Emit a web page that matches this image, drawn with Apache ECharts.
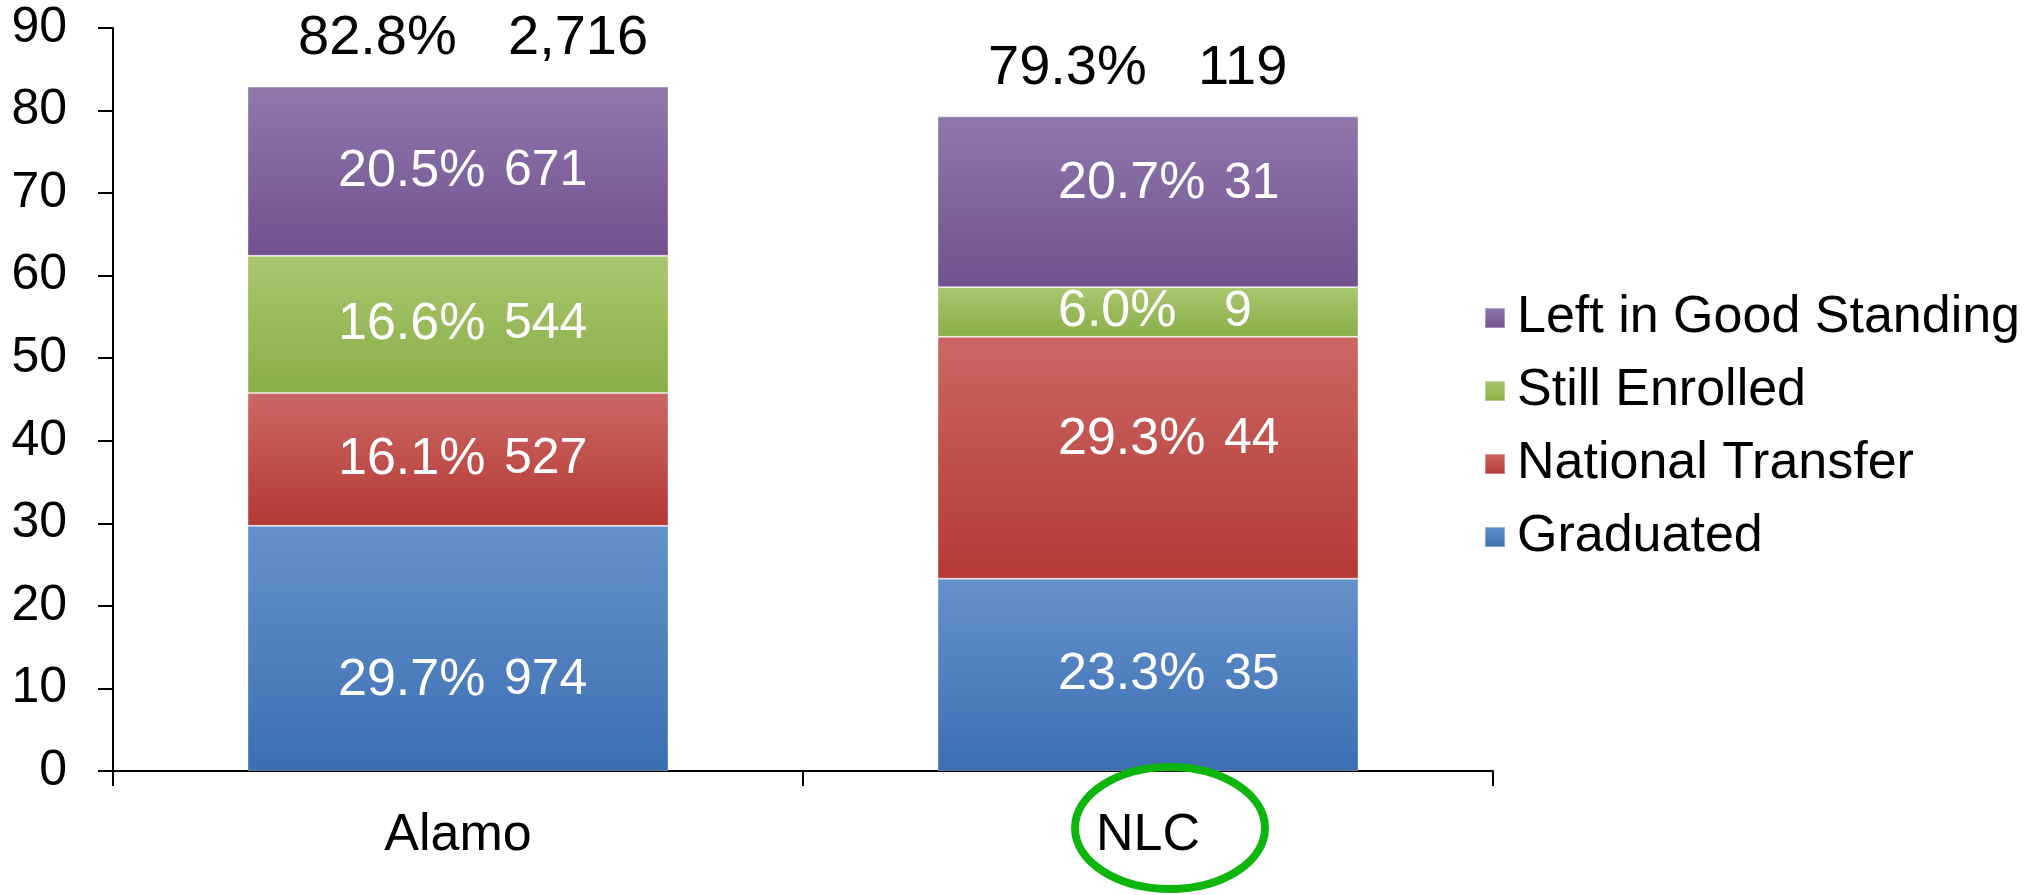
<!DOCTYPE html>
<html>
<head>
<meta charset="utf-8">
<script src="https://cdn.jsdelivr.net/npm/echarts@6/dist/echarts.min.js"></script>
<style>
html, body { margin: 0; padding: 0; background: #fff; }
#chart { width: 2041px; height: 895px; }
</style>
</head>
<body>
<div id="chart"></div>
<script>
// 数据
var categories = ['Alamo', 'NLC'];
var seriesNames = ['Graduated', 'National Transfer', 'Still Enrolled', 'Left in Good Standing'];
var pctValues = [
	[29.7, 23.3],
	[16.1, 29.3],
	[16.6, 6.0],
	[20.5, 20.7]
];
var countValues = [
	['974', '35'],
	['527', '44'],
	['544', '9'],
	['671', '31']
];
var totalPct = ['82.8%', '79.3%'];
var totalCount = ['2,716', '119'];
var yTicks = [0, 90, 10]; // min, max, interval

// 渐变色（上浅下深）
var gradients = [
	['#6591cc', '#3c6fb2'],
	['#cb6763', '#b53935'],
	['#a9c66e', '#8aae48'],
	['#8f77ac', '#71528f']
];
// 标签的水平偏移（按柱）及个别的垂直微调
var labelDx = [8, 38];
var labelDy = [
	[32, 0],
	[0, -18],
	[0, 0],
	[0, -18]
];

var font = 'Liberation Sans';

var chart = echarts.init(document.getElementById('chart'));

var series = seriesNames.map(function (name, i) {
	return {
		name: name,
		type: 'bar',
		stack: 'total',
		barWidth: 421,
		itemStyle: {
			color: new echarts.graphic.LinearGradient(0, 0, 0, 1, [
				{ offset: 0, color: gradients[i][0] },
				{ offset: 1, color: gradients[i][1] }
			]),
			borderColor: 'rgba(255,255,255,0.35)',
			borderWidth: 1
		},
		data: pctValues[i].map(function (v, j) {
			return {
				value: v,
				label: { offset: [labelDx[j], labelDy[i][j]] }
			};
		}),
		label: {
			show: true,
			position: 'inside',
			formatter: function (p) {
				return '{p|' + pctValues[i][p.dataIndex].toFixed(1) + '%}{c|' + countValues[i][p.dataIndex] + '}';
			},
			rich: {
				p: { fontFamily: font, fontSize: 52, color: '#fff', width: 166, align: 'left' },
				c: { fontFamily: font, fontSize: 50, color: '#fff', width: 90, align: 'left' }
			}
		}
	};
});

// 总计标签：高度为0的堆叠柱
series.push({
	name: 'Total',
	type: 'bar',
	stack: 'total',
	barWidth: 421,
	data: categories.map(function () { return 0; }),
	itemStyle: { color: 'transparent' },
	label: {
		show: true,
		position: 'top',
		distance: 20,
		formatter: function (p) {
			return '{p|' + totalPct[p.dataIndex] + '}{c|' + totalCount[p.dataIndex] + '}';
		},
		rich: {
			p: { fontFamily: font, fontSize: 56, color: '#000', width: 210, align: 'left' },
			c: { fontFamily: font, fontSize: 56, color: '#000', width: 110, align: 'left' }
		}
	}
});

var option = {
	animation: false,
	backgroundColor: '#fff',
	textStyle: { fontFamily: font },
	grid: { left: 113, right: 548, top: 28, bottom: 124 },
	legend: {
		orient: 'vertical',
		left: 1484,
		top: 292,
		padding: 0,
		itemWidth: 20,
		itemHeight: 20,
		itemGap: 21,
		icon: 'rect',
		data: ['Left in Good Standing', 'Still Enrolled', 'National Transfer', 'Graduated'],
		textStyle: { fontFamily: font, fontSize: 52, color: '#000', padding: [0, 0, 0, 7] }
	},
	xAxis: {
		type: 'category',
		data: categories,
		axisLine: { lineStyle: { color: '#000', width: 2 } },
		axisTick: { show: true, length: 15, lineStyle: { color: '#000', width: 2 } },
		axisLabel: { fontFamily: font, fontSize: 52, color: '#000', margin: 39 }
	},
	yAxis: {
		type: 'value',
		min: yTicks[0],
		max: yTicks[1],
		interval: yTicks[2],
		splitLine: { show: false },
		axisLine: { show: true, lineStyle: { color: '#000', width: 2 } },
		axisTick: { show: true, length: 15, lineStyle: { color: '#000', width: 2 } },
		axisLabel: { fontFamily: font, fontSize: 50, color: '#000', margin: 46 }
	},
	series: series
};
chart.setOption(option);

// 绿色椭圆圈出 NLC
var cx = chart.convertToPixel({ xAxisIndex: 0 }, 'NLC') + 22;
var axisY = chart.convertToPixel({ yAxisIndex: 0 }, 0);
chart.setOption({
	graphic: [{
		type: 'ellipse',
		shape: { cx: cx, cy: axisY + 57, rx: 95, ry: 61 },
		style: { fill: 'none', stroke: '#0db50d', lineWidth: 8 },
		z: 100
	}]
});
</script>
</body>
</html>
